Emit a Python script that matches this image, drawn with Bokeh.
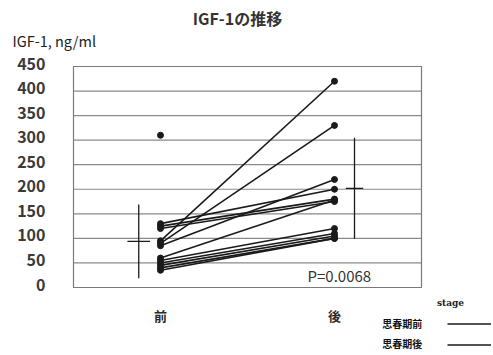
from bokeh.plotting import figure
from bokeh.models import Range1d, Label, Legend, LegendItem
from bokeh.embed import file_html
from bokeh.resources import INLINE

# ---- data ----
stages = ["前", "後"]
pre_values = [130, 125, 120, 95, 90, 85, 60, 55, 50, 45, 40, 35]
post_values = [200, 180, 175, 420, 330, 220, 178, 120, 110, 105, 100, 100]
pre_unpaired = [310]
stage_means = [94, 202]
stage_sds = [75, 103]
y_ticks = [0, 50, 100, 150, 200, 250, 300, 350, 400, 450]
chart_title = "IGF-1の推移"
y_title = "IGF-1, ng/ml"
p_value_text = "P=0.0068"
legend_title = "stage"
legend_labels = ["思春期前", "思春期後"]

FONT = "Noto Sans CJK JP"
INK = "#1a1a1a"

stage_pos = [i + 1 for i in range(len(stages))]
x_lo, x_hi = 0.5, 2.5          # plot box in data units
y_lo, y_hi = y_ticks[0], y_ticks[-1]

# the whole canvas is the frame so that every text around the box is drawn
p = figure(width=493, height=355, output_backend="svg", toolbar_location=None, title=None,
           x_range=Range1d(0.0805, 2.9138), y_range=Range1d(-138.5, 584.4),
           min_border_left=0, min_border_right=0, min_border_top=0, min_border_bottom=0)
p.axis.visible = False
p.grid.visible = False
p.outline_line_color = None
p.background_fill_color = "white"
p.border_fill_color = "white"

# grid lines and plot box
p.segment(x0=[x_lo] * len(y_ticks), y0=y_ticks, x1=[x_hi] * len(y_ticks), y1=y_ticks,
          line_color="#8a8a8a", line_width=1.2)
p.quad(left=[x_lo], right=[x_hi], bottom=[y_lo], top=[y_hi], fill_color=None,
       line_color="#7a7a7a", line_width=1.2)

# y tick labels
p.text(x=[x_lo] * len(y_ticks), y=[t + 6 for t in y_ticks], text=[str(t) for t in y_ticks],
       x_offset=-28, text_align="right", text_baseline="middle",
       text_font={"value": FONT}, text_font_size="16px", text_font_style="bold", text_color="#3a3a3a")
# category labels
p.text(x=stage_pos, y=[-57] * len(stages), text=stages, text_align="center", text_baseline="middle",
       text_font={"value": FONT}, text_font_size="13px", text_font_style="bold", text_color="#2a2a2a")

# paired data
n = len(pre_values)
lines = p.segment(x0=[stage_pos[0]] * n, y0=pre_values, x1=[stage_pos[1]] * n, y1=post_values,
                  line_color=INK, line_width=1.6)
p.scatter(x=[stage_pos[0]] * n, y=pre_values, size=6, color=INK)
p.scatter(x=[stage_pos[1]] * n, y=post_values, size=6, color=INK)
p.scatter(x=[stage_pos[0]] * len(pre_unpaired), y=pre_unpaired, size=6, color=INK)

# mean +/- SD bars beside each stage
offsets = [-0.125, 0.115]
cap_half = [0.065, 0.05]
xs = [pos + o for pos, o in zip(stage_pos, offsets)]
lo = [m - s for m, s in zip(stage_means, stage_sds)]
hi = [m + s for m, s in zip(stage_means, stage_sds)]
p.segment(x0=xs, y0=lo, x1=xs, y1=hi, line_color=INK, line_width=1.3)
p.segment(x0=[x - h for x, h in zip(xs, cap_half)], y0=stage_means,
          x1=[x + h for x, h in zip(xs, cap_half)], y1=stage_means,
          line_color=INK, line_width=1.3)

# texts
p.add_layout(Label(x=1.4425, y=548, text=chart_title, text_align="center", text_baseline="middle",
                   text_font=FONT, text_font_size="16px", text_font_style="bold", text_color="#333333"))
p.add_layout(Label(x=0.149, y=503, text=y_title, text_align="left", text_baseline="middle",
                   text_font=FONT, text_font_size="14.5px", text_color="#222222"))
p.add_layout(Label(x=1.845, y=24, text=p_value_text, text_align="left", text_baseline="middle",
                   text_font=FONT, text_font_size="15px", text_color="#333333"))
p.add_layout(Label(x=2.667, y=-31, text=legend_title, text_align="center", text_baseline="middle",
                   text_font="DejaVu Serif", text_font_size="9px", text_font_style="bold",
                   text_color="#222222"))
for lab, yv in zip(legend_labels, [-73, -114]):
    p.add_layout(Label(x=2.39, y=yv, text=lab, text_align="center", text_baseline="middle",
                       text_font=FONT, text_font_size="10px", text_font_style="bold",
                       text_color="#111111"))

legend = Legend(items=[LegendItem(label=" ", renderers=[lines]) for _ in legend_labels],
                location=(447, 0), glyph_width=44, glyph_height=21, label_width=0,
                label_standoff=0, padding=0, margin=0, spacing=0,
                border_line_color=None, background_fill_alpha=0,
                label_text_font_size="6px")
p.add_layout(legend)

open("out.html", "w").write(file_html(p, INLINE))
